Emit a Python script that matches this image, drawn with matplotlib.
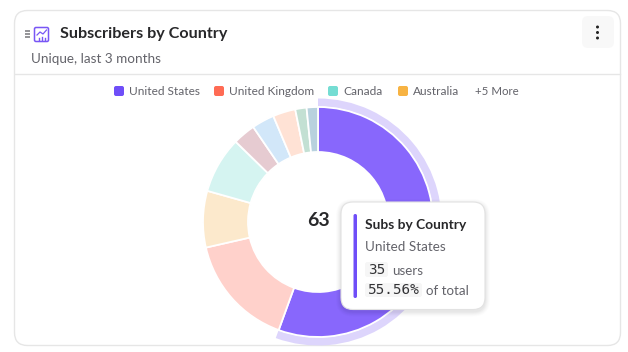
import matplotlib
matplotlib.use("Agg")
import matplotlib.pyplot as plt
from matplotlib.patches import FancyBboxPatch, Rectangle, Circle

title = "Subscribers by Country"
subtitle = "Unique, last 3 months"
countries = ["United States", "United Kingdom", "Canada", "Australia",
             "Other 1", "Other 2", "Other 3", "Other 4", "Other 5"]
users = [35, 10, 5, 5, 2, 2, 2, 1, 1]
slice_colors = ["#8867FC", "#FFD1CB", "#FCE9CC", "#D5F4F1", "#E6CBD1",
                "#D2E7F9", "#FFE2D5", "#C3E0D3", "#B8D2DE"]
legend_labels = ["United States", "United Kingdom", "Canada", "Australia"]
legend_colors = ["#6F4EF8", "#FF6B54", "#75DDD3", "#F7B343"]
more_label = "+5 More"
total_label = "63"
tip_title = "Subs by Country"
tip_name = "United States"
tip_count = "35"
tip_count_label = "users"
tip_share = "55.56%"
tip_share_label = "of total"

W, H = 628, 352
FONT = "Lato"
MONO = "DejaVu Sans Mono"
INK = "#28282A"
GREY = "#63636A"

fig = plt.figure(figsize=(W / 100, H / 100), dpi=100, facecolor="white")
ax = fig.add_axes([0, 0, 1, 1])
ax.axis("off")


def Y(py):
    return H - py


def rbox(x0, y0, x1, y1, r, **kw):
    p = FancyBboxPatch((x0 + r, Y(y1) + r), x1 - x0 - 2 * r, y1 - y0 - 2 * r,
                       boxstyle=f"round,pad={r},rounding_size={r}", **kw)
    ax.add_patch(p)
    return p


# card
rbox(14.5, 10.5, 620.5, 345.5, 13, fc="white", ec="#E6E6E6", lw=1, zorder=1)
ax.plot([15, 620], [Y(74), Y(74)], color="#E6E6E6", lw=1, zorder=2)

# menu button
rbox(582, 16, 614, 48, 6, fc="#F8F8F8", ec="none", zorder=2)
for py in (27, 32.5, 38):
    ax.add_patch(Circle((597.5, Y(py)), 1.5, fc="#222222", ec="none", zorder=3))

# drag handle + icon
for py in (31, 34, 37):
    ax.plot([24.5, 29.5], [Y(py), Y(py)], color="#77777B", lw=1.1, zorder=3, solid_capstyle="butt")
rbox(34.5, 27.5, 48.5, 41.5, 1.5, fc="white", ec="#7856F5", lw=1.1, zorder=3)
ax.plot([37, 40, 43, 46.5], [Y(35), Y(32), Y(34), Y(30)], color="#7856F5", lw=0.9, zorder=4)
for x, top in ((38.5, 38), (41.5, 37), (44.5, 38)):
    ax.plot([x, x], [Y(top), Y(40)], color="#7856F5", lw=1.0, zorder=4)

ax.text(60, Y(34.3), title, fontfamily=FONT, fontweight="bold", fontsize=11.6,
        color=INK, va="center", ha="left", zorder=3)
ax.text(31, Y(59), subtitle, fontfamily=FONT, fontsize=9.75, color=GREY,
        va="center", ha="left", zorder=3)

# legend
swatch_x = [114, 214, 328, 398]
label_x = [129, 229, 343.5, 412.5]
for sx, lx, lab, col in zip(swatch_x, label_x, legend_labels, legend_colors):
    rbox(sx, 86, sx + 10, 96, 2, fc=col, ec="none", zorder=3)
    ax.text(lx, Y(91.5), lab, fontfamily=FONT, fontsize=8.55, color=GREY,
            va="center", ha="left", zorder=3)
ax.text(475, Y(91.5), more_label, fontfamily=FONT, fontsize=8.3, color=GREY,
        va="center", ha="left", zorder=3)

# donut
CX, CY, RO, RI = 318, 222, 115, 70
wedges, _ = ax.pie(users, colors=slice_colors, startangle=90, counterclock=False,
                   center=(CX, Y(CY)), radius=RO,
                   wedgeprops=dict(width=RO - RI, edgecolor="white", linewidth=1.3,
                                   joinstyle="round"))
for w in wedges:
    w.set_zorder(3)

# hover arc over the active slice
arc, _ = ax.pie([users[0], sum(users[1:])], colors=["#DDD5FC", "none"], startangle=90,
                counterclock=False, center=(CX, Y(CY)), radius=123.5,
                wedgeprops=dict(width=8, edgecolor="none"))
for w in arc:
    w.set_zorder(2.5)
ax.set_xlim(0, W)
ax.set_ylim(0, H)
ax.set_aspect("auto")

ax.text(CX, Y(221), total_label, fontfamily=FONT, fontweight="bold", fontsize=14,
        color=INK, ha="center", va="center", zorder=4)

# tooltip
for grow, alpha in ((5, 0.012), (4, 0.016), (3, 0.02), (2, 0.022), (1, 0.025)):
    rbox(341 - grow, 202 - grow + 2, 485 + grow, 309.5 + grow + 2, 12 + grow,
         fc="black", ec="none", alpha=alpha, zorder=5)
rbox(341, 202, 485, 309.5, 12, fc="white", ec="#E2E2E2", lw=0.8, zorder=6)
rbox(353.5, 214, 357, 298, 1.7, fc="#6F4EF8", ec="none", zorder=7)
ax.text(365, Y(225), tip_title, fontfamily=FONT, fontweight="bold", fontsize=9.9,
        color=INK, va="center", ha="left", zorder=7)
ax.text(365, Y(247), tip_name, fontfamily=FONT, fontsize=9.7, color=GREY,
        va="center", ha="left", zorder=7)
rbox(365, 262, 388, 277, 2.5, fc="#F6F6F6", ec="none", zorder=7)
rbox(365, 283, 422, 297, 2.5, fc="#F6F6F6", ec="none", zorder=7)
ax.text(376.5, Y(270), tip_count, fontfamily=MONO, fontsize=10.4, color="#333336",
        va="center", ha="center", zorder=8)
ax.text(392.5, Y(271), tip_count_label, fontfamily=FONT, fontsize=9.6, color=GREY,
        va="center", ha="left", zorder=8)
ax.text(393.5, Y(290), tip_share, fontfamily=MONO, fontsize=10.4, color="#333336",
        va="center", ha="center", zorder=8)
ax.text(426.5, Y(291), tip_share_label, fontfamily=FONT, fontsize=9.6, color=GREY,
        va="center", ha="left", zorder=8)

fig.savefig("out.png", dpi=100, facecolor="white")
